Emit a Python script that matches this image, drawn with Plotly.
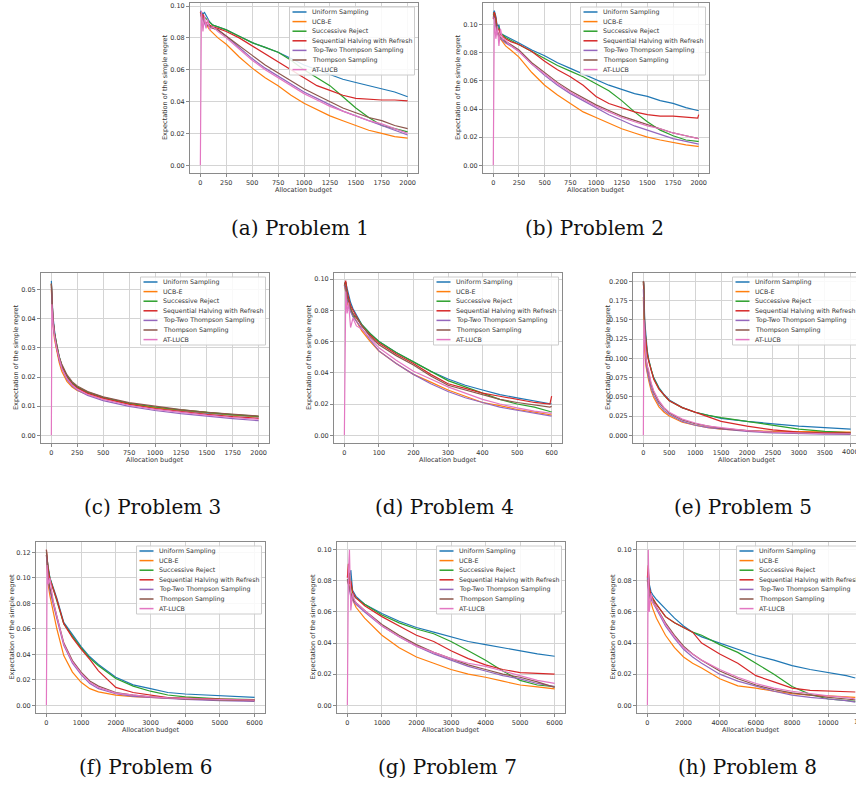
import plotly.graph_objects as go

W, H = 856, 785

NAMES = ["Uniform Sampling", "UCB-E", "Successive Reject", "Sequential Halving with Refresh",
         "Top-Two Thompson Sampling", "Thompson Sampling", "AT-LUCB"]
COLORS = ["#1f77b4", "#ff7f0e", "#2ca02c", "#d62728", "#9467bd", "#8c564b", "#e377c2"]
CAPTIONS = ["(a) Problem 1", "(b) Problem 2", "(c) Problem 3", "(d) Problem 4",
            "(e) Problem 5", "(f) Problem 6", "(g) Problem 7", "(h) Problem 8"]
X_TITLE = "Allocation budget"
Y_TITLE = "Expectation of the simple regret"

# ---------------- Problem 1 ----------------
p1_x = [0, 10, 25, 40, 55, 70, 90, 120, 170, 250, 375, 500, 625, 750, 875, 1000, 1125, 1250, 1375, 1500, 1625, 1750, 1875, 2000]
p1_uniform = [0.097, 0.096, 0.095, 0.096, 0.094, 0.092, 0.090, 0.088, 0.087, 0.085, 0.081, 0.077, 0.074, 0.071, 0.067, 0.063, 0.060, 0.057, 0.054, 0.052, 0.050, 0.048, 0.046, 0.043]
p1_ucbe = [0.096, 0.094, 0.092, 0.090, 0.088, 0.087, 0.085, 0.083, 0.080, 0.076, 0.068, 0.061, 0.055, 0.050, 0.044, 0.039, 0.035, 0.031, 0.028, 0.025, 0.022, 0.020, 0.018, 0.017]
p1_sr = [0.096, 0.095, 0.094, 0.093, 0.092, 0.091, 0.090, 0.088, 0.087, 0.085, 0.081, 0.077, 0.074, 0.071, 0.066, 0.060, 0.055, 0.050, 0.043, 0.036, 0.030, 0.025, 0.023, 0.021]
p1_sh = [0.096, 0.093, 0.095, 0.090, 0.089, 0.090, 0.088, 0.087, 0.086, 0.084, 0.080, 0.075, 0.070, 0.065, 0.060, 0.055, 0.050, 0.047, 0.044, 0.042, 0.0415, 0.041, 0.041, 0.0405]
p1_ttts = [0.095, 0.094, 0.091, 0.089, 0.087, 0.088, 0.087, 0.086, 0.085, 0.081, 0.074, 0.067, 0.061, 0.056, 0.051, 0.046, 0.042, 0.038, 0.034, 0.031, 0.028, 0.025, 0.022, 0.019]
p1_ts = [0.096, 0.095, 0.092, 0.090, 0.088, 0.088, 0.087, 0.086, 0.085, 0.081, 0.075, 0.069, 0.063, 0.058, 0.053, 0.048, 0.044, 0.040, 0.036, 0.033, 0.030, 0.028, 0.025, 0.023]
p1_atlucb = [0.000, 0.097, 0.084, 0.094, 0.086, 0.092, 0.085, 0.087, 0.084, 0.080, 0.073, 0.066, 0.060, 0.055, 0.050, 0.045, 0.041, 0.037, 0.034, 0.031, 0.028, 0.026, 0.023, 0.020]

# ---------------- Problem 2 ----------------
p2_x = [0, 10, 25, 40, 55, 70, 90, 120, 170, 250, 375, 500, 625, 750, 875, 1000, 1125, 1250, 1375, 1500, 1625, 1750, 1875, 1990, 2000]
p2_uniform = [0.108, 0.110, 0.106, 0.098, 0.100, 0.094, 0.093, 0.092, 0.090, 0.087, 0.082, 0.078, 0.073, 0.069, 0.065, 0.061, 0.057, 0.054, 0.051, 0.049, 0.046, 0.044, 0.041, 0.039, 0.039]
p2_ucbe = [0.105, 0.108, 0.100, 0.096, 0.091, 0.090, 0.088, 0.085, 0.082, 0.077, 0.066, 0.057, 0.050, 0.044, 0.038, 0.034, 0.030, 0.026, 0.023, 0.020, 0.018, 0.016, 0.0145, 0.0135, 0.0135]
p2_sr = [0.107, 0.109, 0.104, 0.097, 0.098, 0.094, 0.093, 0.091, 0.089, 0.086, 0.081, 0.076, 0.071, 0.067, 0.063, 0.058, 0.053, 0.046, 0.038, 0.031, 0.025, 0.021, 0.018, 0.017, 0.017]
p2_sh = [0.104, 0.109, 0.105, 0.096, 0.097, 0.093, 0.092, 0.090, 0.088, 0.086, 0.081, 0.074, 0.068, 0.063, 0.057, 0.049, 0.044, 0.041, 0.038, 0.036, 0.035, 0.035, 0.034, 0.0335, 0.036]
p2_ttts = [0.106, 0.104, 0.099, 0.094, 0.092, 0.090, 0.089, 0.087, 0.085, 0.081, 0.072, 0.064, 0.057, 0.051, 0.046, 0.041, 0.036, 0.032, 0.028, 0.025, 0.022, 0.019, 0.017, 0.015, 0.015]
p2_ts = [0.107, 0.106, 0.101, 0.095, 0.093, 0.091, 0.090, 0.088, 0.086, 0.082, 0.073, 0.066, 0.059, 0.053, 0.048, 0.043, 0.039, 0.035, 0.032, 0.029, 0.026, 0.023, 0.021, 0.019, 0.019]
p2_atlucb = [0.000, 0.105, 0.090, 0.099, 0.085, 0.097, 0.090, 0.089, 0.085, 0.081, 0.072, 0.065, 0.058, 0.052, 0.047, 0.042, 0.038, 0.034, 0.031, 0.028, 0.026, 0.023, 0.021, 0.019, 0.019]

# ---------------- Problem 3 ----------------
p3_x = [0, 5, 15, 30, 50, 75, 100, 150, 200, 250, 350, 500, 750, 1000, 1250, 1500, 1750, 2000]
p3_uniform = [0.053, 0.046, 0.041, 0.036, 0.031, 0.027, 0.024, 0.0202, 0.018, 0.0165, 0.0147, 0.0129, 0.0109, 0.0095, 0.0085, 0.0076, 0.0069, 0.0063]
p3_ucbe = [0.050, 0.043, 0.038, 0.033, 0.029, 0.025, 0.022, 0.0185, 0.0166, 0.0154, 0.0139, 0.0126, 0.0108, 0.0095, 0.0086, 0.0077, 0.0070, 0.0064]
p3_sr = [0.052, 0.045, 0.040, 0.035, 0.031, 0.027, 0.024, 0.0203, 0.0180, 0.0166, 0.0148, 0.0130, 0.0110, 0.0097, 0.0087, 0.0078, 0.0071, 0.0065]
p3_sh = [0.052, 0.045, 0.040, 0.035, 0.030, 0.026, 0.0235, 0.0198, 0.0176, 0.0162, 0.0144, 0.0127, 0.0106, 0.0092, 0.0081, 0.0072, 0.0064, 0.0058]
p3_ttts = [0.051, 0.044, 0.039, 0.034, 0.030, 0.026, 0.023, 0.0192, 0.0170, 0.0155, 0.0137, 0.0119, 0.0099, 0.0085, 0.0074, 0.0065, 0.0057, 0.0050]
p3_ts = [0.052, 0.045, 0.040, 0.035, 0.031, 0.027, 0.0245, 0.0208, 0.0184, 0.0169, 0.0150, 0.0132, 0.0112, 0.0099, 0.0088, 0.0079, 0.0072, 0.0066]
p3_atlucb = [0.000, 0.045, 0.039, 0.034, 0.030, 0.026, 0.023, 0.0195, 0.0173, 0.0158, 0.0140, 0.0123, 0.0103, 0.0089, 0.0078, 0.0069, 0.0061, 0.0055]

# ---------------- Problem 4 ----------------
p4_x = [0, 4, 8, 12, 18, 25, 35, 50, 75, 100, 150, 200, 250, 300, 350, 400, 450, 500, 550, 595, 600]
p4_uniform = [0.097, 0.098, 0.094, 0.090, 0.085, 0.081, 0.077, 0.071, 0.065, 0.060, 0.053, 0.047, 0.041, 0.036, 0.032, 0.029, 0.026, 0.024, 0.022, 0.020, 0.020]
p4_ucbe = [0.096, 0.092, 0.083, 0.087, 0.080, 0.077, 0.073, 0.067, 0.060, 0.054, 0.046, 0.039, 0.034, 0.029, 0.025, 0.021, 0.019, 0.0165, 0.0148, 0.0132, 0.013]
p4_sr = [0.097, 0.098, 0.090, 0.086, 0.082, 0.076, 0.076, 0.071, 0.065, 0.060, 0.053, 0.047, 0.041, 0.035, 0.031, 0.027, 0.023, 0.020, 0.018, 0.0152, 0.015]
p4_sh = [0.096, 0.099, 0.092, 0.089, 0.083, 0.080, 0.076, 0.070, 0.064, 0.059, 0.052, 0.046, 0.039, 0.033, 0.030, 0.027, 0.025, 0.023, 0.021, 0.020, 0.025]
p4_ttts = [0.096, 0.093, 0.087, 0.084, 0.079, 0.076, 0.073, 0.068, 0.061, 0.054, 0.046, 0.039, 0.033, 0.028, 0.024, 0.021, 0.018, 0.016, 0.014, 0.0125, 0.0123]
p4_ts = [0.097, 0.095, 0.089, 0.085, 0.081, 0.078, 0.075, 0.070, 0.063, 0.058, 0.051, 0.045, 0.038, 0.032, 0.029, 0.026, 0.023, 0.021, 0.0195, 0.018, 0.0185]
p4_atlucb = [0.000, 0.092, 0.078, 0.085, 0.069, 0.075, 0.070, 0.068, 0.062, 0.056, 0.048, 0.041, 0.036, 0.031, 0.027, 0.023, 0.020, 0.0175, 0.0155, 0.014, 0.014]

# ---------------- Problem 5 ----------------
p5_x = [0, 10, 25, 50, 75, 100, 150, 200, 300, 400, 500, 750, 1000, 1250, 1500, 2000, 2500, 3000, 3500, 4000]
p5_uniform = [0.200, 0.195, 0.150, 0.125, 0.110, 0.100, 0.085, 0.075, 0.062, 0.053, 0.046, 0.036, 0.030, 0.026, 0.022, 0.018, 0.015, 0.012, 0.010, 0.008]
p5_ucbe = [0.180, 0.160, 0.110, 0.090, 0.080, 0.072, 0.058, 0.049, 0.037, 0.030, 0.025, 0.017, 0.013, 0.010, 0.008, 0.006, 0.005, 0.0045, 0.004, 0.004]
p5_sr = [0.200, 0.190, 0.140, 0.120, 0.107, 0.098, 0.084, 0.074, 0.061, 0.052, 0.045, 0.036, 0.030, 0.026, 0.023, 0.018, 0.013, 0.008, 0.005, 0.003]
p5_sh = [0.200, 0.185, 0.140, 0.118, 0.106, 0.097, 0.084, 0.073, 0.060, 0.052, 0.045, 0.036, 0.030, 0.023, 0.018, 0.012, 0.007, 0.004, 0.003, 0.003]
p5_ttts = [0.190, 0.170, 0.120, 0.095, 0.083, 0.075, 0.061, 0.052, 0.040, 0.032, 0.027, 0.018, 0.013, 0.010, 0.008, 0.005, 0.003, 0.002, 0.0015, 0.001]
p5_ts = [0.195, 0.200, 0.140, 0.100, 0.090, 0.082, 0.066, 0.056, 0.043, 0.035, 0.029, 0.020, 0.015, 0.012, 0.009, 0.006, 0.004, 0.003, 0.0025, 0.002]
p5_atlucb = [0.000, 0.150, 0.130, 0.100, 0.090, 0.085, 0.068, 0.058, 0.045, 0.036, 0.030, 0.021, 0.016, 0.012, 0.010, 0.006, 0.004, 0.003, 0.002, 0.002]

# ---------------- Problem 6 ----------------
p6_x = [0, 20, 50, 100, 200, 300, 500, 750, 1000, 1250, 1500, 2000, 2500, 3000, 3500, 4000, 5000, 6000]
p6_uniform = [0.118, 0.115, 0.108, 0.100, 0.092, 0.084, 0.065, 0.055, 0.046, 0.038, 0.032, 0.022, 0.016, 0.013, 0.010, 0.0088, 0.0073, 0.0062]
p6_ucbe = [0.118, 0.105, 0.095, 0.086, 0.072, 0.060, 0.039, 0.026, 0.018, 0.013, 0.0105, 0.008, 0.0068, 0.006, 0.0055, 0.005, 0.0045, 0.004]
p6_sr = [0.120, 0.115, 0.107, 0.100, 0.091, 0.083, 0.064, 0.054, 0.045, 0.037, 0.031, 0.021, 0.015, 0.011, 0.008, 0.0065, 0.005, 0.0045]
p6_sh = [0.122, 0.116, 0.107, 0.099, 0.091, 0.083, 0.064, 0.053, 0.044, 0.036, 0.027, 0.014, 0.010, 0.008, 0.006, 0.0055, 0.0045, 0.004]
p6_ttts = [0.118, 0.108, 0.098, 0.090, 0.078, 0.068, 0.047, 0.033, 0.024, 0.017, 0.013, 0.009, 0.007, 0.006, 0.005, 0.0045, 0.0035, 0.003]
p6_ts = [0.122, 0.110, 0.100, 0.092, 0.080, 0.070, 0.049, 0.035, 0.026, 0.019, 0.015, 0.010, 0.008, 0.0065, 0.0057, 0.005, 0.0042, 0.0036]
p6_atlucb = [0.000, 0.110, 0.095, 0.100, 0.081, 0.070, 0.048, 0.034, 0.025, 0.018, 0.014, 0.0095, 0.0078, 0.0066, 0.0058, 0.0052, 0.0045, 0.004]

# ---------------- Problem 7 ----------------
p7_x = [0, 30, 60, 100, 150, 200, 250, 500, 1000, 1500, 2000, 2500, 3000, 3500, 4000, 4500, 5000, 5500, 6000]
p7_uniform = [0.081, 0.080, 0.082, 0.087, 0.074, 0.072, 0.070, 0.065, 0.059, 0.054, 0.050, 0.047, 0.044, 0.041, 0.039, 0.037, 0.035, 0.033, 0.0315]
p7_ucbe = [0.080, 0.078, 0.083, 0.072, 0.068, 0.065, 0.063, 0.056, 0.045, 0.037, 0.031, 0.027, 0.023, 0.020, 0.018, 0.0155, 0.013, 0.0118, 0.0105]
p7_sr = [0.081, 0.079, 0.085, 0.080, 0.072, 0.070, 0.069, 0.065, 0.058, 0.053, 0.049, 0.046, 0.041, 0.035, 0.029, 0.022, 0.016, 0.013, 0.012]
p7_sh = [0.082, 0.091, 0.078, 0.080, 0.073, 0.071, 0.069, 0.064, 0.057, 0.051, 0.045, 0.041, 0.035, 0.030, 0.026, 0.023, 0.021, 0.0205, 0.020]
p7_ttts = [0.080, 0.078, 0.074, 0.070, 0.068, 0.066, 0.065, 0.060, 0.051, 0.044, 0.038, 0.033, 0.029, 0.025, 0.022, 0.019, 0.017, 0.014, 0.012]
p7_ts = [0.081, 0.079, 0.076, 0.072, 0.069, 0.067, 0.066, 0.061, 0.052, 0.045, 0.039, 0.034, 0.030, 0.026, 0.023, 0.020, 0.018, 0.015, 0.0115]
p7_atlucb = [0.000, 0.085, 0.100, 0.061, 0.072, 0.068, 0.066, 0.061, 0.051, 0.044, 0.038, 0.034, 0.030, 0.027, 0.025, 0.022, 0.019, 0.016, 0.014]

# ---------------- Problem 8 ----------------
p8_x = [0, 50, 100, 200, 300, 500, 1000, 1500, 2000, 2500, 3000, 4000, 5000, 6000, 7000, 8000, 9000, 10000, 11000, 11500]
p8_uniform = [0.081, 0.086, 0.078, 0.073, 0.071, 0.068, 0.062, 0.056, 0.051, 0.047, 0.044, 0.040, 0.036, 0.032, 0.029, 0.0255, 0.023, 0.021, 0.019, 0.0175]
p8_ucbe = [0.080, 0.078, 0.070, 0.065, 0.062, 0.056, 0.045, 0.037, 0.031, 0.027, 0.024, 0.017, 0.0125, 0.011, 0.009, 0.0075, 0.0065, 0.006, 0.0055, 0.005]
p8_sr = [0.081, 0.080, 0.074, 0.070, 0.068, 0.065, 0.057, 0.053, 0.050, 0.047, 0.045, 0.039, 0.034, 0.027, 0.020, 0.012, 0.007, 0.004, 0.003, 0.0025]
p8_sh = [0.082, 0.090, 0.076, 0.071, 0.069, 0.065, 0.057, 0.053, 0.050, 0.047, 0.040, 0.033, 0.027, 0.019, 0.015, 0.011, 0.0095, 0.009, 0.0087, 0.0085]
p8_ttts = [0.080, 0.076, 0.070, 0.068, 0.066, 0.062, 0.051, 0.043, 0.036, 0.031, 0.027, 0.020, 0.0155, 0.012, 0.009, 0.0065, 0.005, 0.004, 0.003, 0.002]
p8_ts = [0.081, 0.077, 0.071, 0.069, 0.067, 0.063, 0.053, 0.045, 0.038, 0.033, 0.029, 0.022, 0.017, 0.013, 0.010, 0.008, 0.0065, 0.005, 0.004, 0.0035]
p8_atlucb = [0.000, 0.100, 0.060, 0.072, 0.066, 0.063, 0.052, 0.044, 0.037, 0.033, 0.029, 0.023, 0.018, 0.014, 0.011, 0.009, 0.0075, 0.006, 0.005, 0.004]

# tick values
ticks_x_2000 = [0, 250, 500, 750, 1000, 1250, 1500, 1750, 2000]
ticks_x_600 = [0, 100, 200, 300, 400, 500, 600]
ticks_x_4000 = [0, 500, 1000, 1500, 2000, 2500, 3000, 3500, 4000]
ticks_x_6000 = [0, 1000, 2000, 3000, 4000, 5000, 6000]
ticks_x_12000 = [0, 2000, 4000, 6000, 8000, 10000, 12000]
ticks_y_010 = [0, 0.02, 0.04, 0.06, 0.08, 0.10]
ticks_y_005 = [0, 0.01, 0.02, 0.03, 0.04, 0.05]
ticks_y_020 = [0, 0.025, 0.05, 0.075, 0.1, 0.125, 0.15, 0.175, 0.2]
ticks_y_012 = [0, 0.02, 0.04, 0.06, 0.08, 0.10, 0.12]

# panel layout: (x data, series, axes box px (left, right, top, bottom), x range, y range, xticks, yticks, yfmt, caption centre px)
panels = [
    (p1_x, [p1_uniform, p1_ucbe, p1_sr, p1_sh, p1_ttts, p1_ts, p1_atlucb], (190, 418, 3, 173), [-100, 2100], [-0.00485, 0.1019], ticks_x_2000, ticks_y_010, ".2f", (300, 228)),
    (p2_x, [p2_uniform, p2_ucbe, p2_sr, p2_sh, p2_ttts, p2_ts, p2_atlucb], (483, 709, 3, 173), [-100, 2100], [-0.0055, 0.1155], ticks_x_2000, ticks_y_010, ".2f", (594, 228)),
    (p3_x, [p3_uniform, p3_ucbe, p3_sr, p3_sh, p3_ttts, p3_ts, p3_atlucb], (41, 269, 273, 443), [-100, 2100], [-0.00265, 0.0557], ticks_x_2000, ticks_y_005, ".2f", (152, 507)),
    (p4_x, [p4_uniform, p4_ucbe, p4_sr, p4_sh, p4_ttts, p4_ts, p4_atlucb], (334, 562, 273, 443), [-30, 630], [-0.00495, 0.1039], ticks_x_600, ticks_y_010, ".2f", (444, 507)),
    (p5_x, [p5_uniform, p5_ucbe, p5_sr, p5_sh, p5_ttts, p5_ts, p5_atlucb], (633, 861, 273, 443), [-200, 4200], [-0.01005, 0.2111], ticks_x_4000, ticks_y_020, ".3f", (743, 507)),
    (p6_x, [p6_uniform, p6_ucbe, p6_sr, p6_sh, p6_ttts, p6_ts, p6_atlucb], (36, 265, 542, 713), [-300, 6300], [-0.0061, 0.1281], ticks_x_6000, ticks_y_012, ".2f", (146, 767)),
    (p7_x, [p7_uniform, p7_ucbe, p7_sr, p7_sh, p7_ttts, p7_ts, p7_atlucb], (337, 565, 542, 713), [-300, 6300], [-0.005, 0.105], ticks_x_6000, ticks_y_010, ".2f", (448, 767)),
    (p8_x, [p8_uniform, p8_ucbe, p8_sr, p8_sh, p8_ttts, p8_ts, p8_atlucb], (637, 865, 542, 713), [-575, 12035], [-0.005, 0.105], ticks_x_12000, ticks_y_010, ".2f", (747, 767)),
]

TXT = "#333333"
SPINE = "#8a8a8a"
GRID = "#d4d4d4"
TICKFONT = dict(family="DejaVu Sans", size=6.5, color=TXT)

fig = go.Figure()
layout = dict(width=W, height=H, margin=dict(l=0, r=0, t=0, b=0),
              paper_bgcolor="white", plot_bgcolor="white", showlegend=False)
shapes, annots = [], []


def fx(p):
    return p / W


def fy(p):
    return 1 - p / H


for i, (xs, series, box, xr, yr, xt, yt, yfmt, cap) in enumerate(panels):
    n = i + 1
    xa = "x" if n == 1 else f"x{n}"
    ya = "y" if n == 1 else f"y{n}"
    for name, color, ys in zip(NAMES, COLORS, series):
        fig.add_trace(go.Scatter(x=xs, y=ys, mode="lines", name=name,
                                 line=dict(color=color, width=1.2),
                                 xaxis=xa, yaxis=ya, hoverinfo="skip"))
    left, right, top, bottom = box
    clipped = right > W
    ticktext = [str(v) for v in xt]
    if clipped:
        scale = (xr[1] - xr[0]) / (right - left)
        xr_vis = [xr[0], xr[0] + (W - left) * scale]
        dom_r = 1.0
        # last tick label sits on the page edge: draw it as free text so it is cut like the reference
        last_px = left + (xt[-1] - xr[0]) / scale
        ticktext[-1] = ""
        annots.append(dict(x=fx(last_px), y=fy(bottom + 8.5), xref="paper", yref="paper",
                           text=str(xt[-1]), showarrow=False, xanchor="center", yanchor="middle",
                           font=TICKFONT))
    else:
        xr_vis = xr
        dom_r = fx(right)
    layout["xaxis" + ("" if n == 1 else str(n))] = dict(
        domain=[fx(left), dom_r], anchor=ya, range=xr_vis,
        tickvals=xt, ticktext=ticktext, tickfont=TICKFONT,
        showgrid=True, gridcolor=GRID, gridwidth=1, zeroline=False,
        showline=True, linecolor=SPINE, linewidth=1, mirror=True,
        ticks="outside", ticklen=3, tickcolor=SPINE, tickwidth=1)
    layout["yaxis" + ("" if n == 1 else str(n))] = dict(
        domain=[fy(bottom), fy(top)], anchor=xa, range=yr,
        tickvals=yt, tickformat=yfmt, tickfont=TICKFONT,
        showgrid=True, gridcolor=GRID, gridwidth=1, zeroline=False,
        showline=True, linecolor=SPINE, linewidth=1, mirror=not clipped,
        ticks="outside", ticklen=3, tickcolor=SPINE, tickwidth=1)
    annots.append(dict(x=fx((left + right) / 2), y=fy(bottom + 16.5), xref="paper", yref="paper",
                       text=X_TITLE, showarrow=False, xanchor="center", yanchor="middle",
                       font=dict(family="DejaVu Sans", size=6.5, color=TXT)))
    annots.append(dict(x=fx(left - 25), y=fy((top + bottom) / 2), xref="paper", yref="paper",
                       text=Y_TITLE, showarrow=False, textangle=-90, xanchor="center", yanchor="middle",
                       font=dict(family="DejaVu Sans", size=6.5, color=TXT)))
    lw, lh = 125, 68
    lr = right - 3.5
    ll = lr - lw
    lt = top + 4
    shapes.append(dict(type="rect", xref="paper", yref="paper", x0=fx(ll), x1=fx(lr),
                       y0=fy(lt + lh), y1=fy(lt), line=dict(color="#cccccc", width=1),
                       fillcolor="rgba(255,255,255,0.85)", layer="above"))
    for k, (name, color) in enumerate(zip(NAMES, COLORS)):
        cy = lt + 5 + k * 9.6
        shapes.append(dict(type="line", xref="paper", yref="paper", x0=fx(ll + 3), x1=fx(ll + 17),
                           y0=fy(cy), y1=fy(cy), line=dict(color=color, width=1.5), layer="above"))
        annots.append(dict(x=fx(ll + 20), y=fy(cy), xref="paper", yref="paper", text=name,
                           showarrow=False, xanchor="left", yanchor="middle",
                           font=dict(family="DejaVu Sans", size=6.3, color=TXT)))
    annots.append(dict(x=fx(cap[0]), y=fy(cap[1]), xref="paper", yref="paper", text=CAPTIONS[i],
                       showarrow=False, xanchor="center", yanchor="middle",
                       font=dict(family="DejaVu Serif", size=20, color="#111111")))

layout["shapes"] = shapes
layout["annotations"] = annots
fig.update_layout(**layout)
fig.write_html("out.html", config={"displayModeBar": False},
               post_script="document.body.style.margin='0';document.body.style.overflow='hidden';")
